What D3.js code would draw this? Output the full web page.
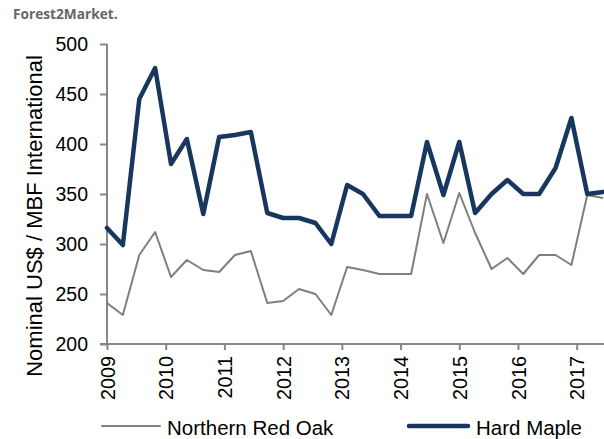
<!DOCTYPE html>
<html>
<head>
<meta charset="utf-8">
<script src="https://cdn.jsdelivr.net/npm/d3@7"></script>
<style>
  body { margin: 0; background: #fff; }
  svg { display: block; font-family: "Liberation Sans", Arial, sans-serif; }
</style>
</head>
<body>
<div id="chart"></div>
<script>
'use strict';

// sample dates (decimal years)
var dates = [2009.00, 2009.27, 2009.55, 2009.82, 2010.09, 2010.36, 2010.64, 2010.91,
             2011.18, 2011.45, 2011.73, 2012.00, 2012.27, 2012.55, 2012.82, 2013.09,
             2013.36, 2013.64, 2013.91, 2014.18, 2014.45, 2014.73, 2015.00, 2015.27,
             2015.55, 2015.82, 2016.09, 2016.36, 2016.64, 2016.91, 2017.18, 2017.45];

var hardMaple = [316, 299, 445, 476, 380, 405, 330, 407, 409, 412, 331, 326, 326, 321, 300, 359,
                 350, 328, 328, 328, 402, 349, 402, 331, 350, 364, 350, 350, 376, 426, 350, 352];

var redOak = [241, 229, 289, 312, 267, 284, 274, 272, 289, 293, 241, 243, 255, 250, 229, 277,
              274, 270, 270, 270, 350, 301, 351, 311, 275, 286, 270, 289, 289, 279, 349, 346];

var yearTicks = [2009, 2010, 2011, 2012, 2013, 2014, 2015, 2016, 2017];
var valueTicks = [200, 250, 300, 350, 400, 450, 500];

var seriesNames = ['Northern Red Oak', 'Hard Maple'];

var width = 604, height = 439;
var axisColor = '#868686', mapleColor = '#17375e', oakColor = '#7f7f7f';

var svg = d3.select('#chart').append('svg')
    .attr('width', width)
    .attr('height', height);

var x = d3.scaleLinear().domain([2009, 2017.465]).range([107, 604]);
var y = d3.scaleLinear().domain([200, 500]).range([344, 44]);

// title
svg.append('text')
    .attr('x', 13)
    .attr('y', 19)
    .style('font-family', '"Open Sans", sans-serif')
    .style('font-weight', 700)
    .style('font-size', '13.7px')
    .attr('fill', '#666')
    .text('Forest2Market.');

// y axis
var yAxis = svg.append('g')
    .attr('transform', 'translate(' + x(2009) + ',0)')
    .call(d3.axisLeft(y).tickValues(valueTicks).tickSize(7).tickPadding(12));
yAxis.select('.domain').remove();
yAxis.append('line')
    .attr('x1', 0).attr('x2', 0)
    .attr('y1', y(500)).attr('y2', y(200));
yAxis.selectAll('line').attr('stroke', axisColor).attr('stroke-width', 2);
yAxis.selectAll('text')
    .attr('fill', '#000')
    .style('font-size', '19.5px')
    .style('font-family', '"Liberation Sans", Arial, sans-serif');

// x axis
var xAxis = svg.append('g')
    .attr('transform', 'translate(0,' + y(200) + ')')
    .call(d3.axisBottom(x).tickValues(yearTicks).tickSize(6).tickFormat(d3.format('d')));
xAxis.select('.domain').remove();
xAxis.append('line')
    .attr('x1', x(2009) - 7).attr('x2', width)
    .attr('y1', 0).attr('y2', 0);
xAxis.selectAll('line').attr('stroke', axisColor).attr('stroke-width', 2);
xAxis.selectAll('.tick text')
    .attr('transform', 'rotate(-90)')
    .attr('x', -12)
    .attr('y', 0)
    .attr('dy', '0.36em')
    .attr('text-anchor', 'end')
    .attr('fill', '#000')
    .style('font-size', '19.8px')
    .style('font-family', '"Liberation Sans", Arial, sans-serif');

// y axis title
svg.append('text')
    .attr('transform', 'translate(42,216) rotate(-90)')
    .attr('text-anchor', 'middle')
    .style('font-size', '22px')
    .attr('fill', '#000')
    .text('Nominal US$ / MBF International');

// lines
var line = d3.line()
    .x(function (d, i) { return x(dates[i]); })
    .y(function (d) { return y(d); });

svg.append('path')
    .datum(redOak)
    .attr('d', line)
    .attr('fill', 'none')
    .attr('stroke', oakColor)
    .attr('stroke-width', 2)
    .attr('stroke-linejoin', 'round');

svg.append('path')
    .datum(hardMaple)
    .attr('d', line)
    .attr('fill', 'none')
    .attr('stroke', mapleColor)
    .attr('stroke-width', 4.5)
    .attr('stroke-linejoin', 'round')
    .attr('stroke-linecap', 'round');

// legend
var legend = [
    {name: seriesNames[0], color: oakColor, w: 2, x0: 102, x1: 160, tx: 167},
    {name: seriesNames[1], color: mapleColor, w: 4.5, x0: 409, x1: 468, tx: 476}
];
var lg = svg.append('g').selectAll('g').data(legend).enter().append('g');
lg.append('line')
    .attr('x1', function (d) { return d.x0; })
    .attr('x2', function (d) { return d.x1; })
    .attr('y1', 426).attr('y2', 426)
    .attr('stroke', function (d) { return d.color; })
    .attr('stroke-width', function (d) { return d.w; })
    .attr('stroke-linecap', 'round');
lg.append('text')
    .attr('x', function (d) { return d.tx; })
    .attr('y', 435)
    .style('font-size', '20.5px')
    .attr('fill', '#000')
    .text(function (d) { return d.name; });
</script>
</body>
</html>
